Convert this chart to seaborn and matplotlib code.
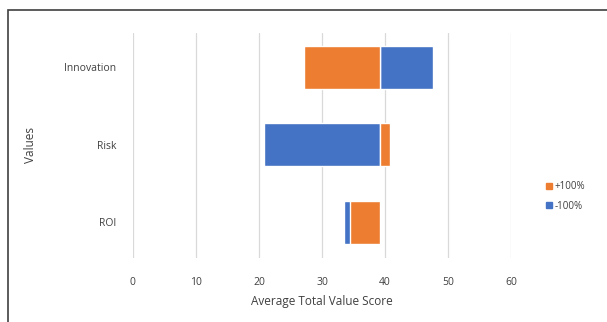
import matplotlib
matplotlib.use("Agg")
import matplotlib.pyplot as plt
import matplotlib.patches as mpatches
import seaborn as sns
import pandas as pd

# data (bar end points, bars start from the base value)
categories = ["Innovation", "Risk", "ROI"]
plus_100 = [27.1, 40.8, 34.4]
minus_100 = [47.6, 20.8, 33.5]
base_value = 39.2
x_ticks = [0, 10, 20, 30, 40, 50, 60]

ORANGE = "#ED7D31"
BLUE = "#4472C4"

sns.set_theme(style="white")
plt.rcParams["font.family"] = ["Open Sans", "DejaVu Sans"]

fig = plt.figure(figsize=(6.07, 3.22), dpi=100)
ax = fig.add_axes([0.219, 0.199, 0.623, 0.70])

df_plus = pd.DataFrame({"cat": categories, "w": [v - base_value for v in plus_100]})
df_minus = pd.DataFrame({"cat": categories, "w": [v - base_value for v in minus_100]})

# -100% drawn first, +100% on top (so the small ROI blue sliver shows under orange)
sns.barplot(data=df_minus, x="w", y="cat", orient="y", color=BLUE, width=0.555,
            left=base_value, errorbar=None, saturation=1, ax=ax, zorder=2)
sns.barplot(data=df_plus, x="w", y="cat", orient="y", color=ORANGE, width=0.555,
            left=base_value, errorbar=None, saturation=1, ax=ax, zorder=3)

ax.set_xlim(0, 60)
ax.set_ylim(2.46, -0.45)
ax.set_xticks(x_ticks)
ax.set_xticklabels([str(t) for t in x_ticks])
ax.grid(axis="x", color="#D9D9D9", linewidth=0.9, zorder=0)
ax.set_axisbelow(True)
for s in ax.spines.values():
    s.set_visible(False)
ax.tick_params(axis="x", length=0, pad=14, labelsize=7.5, labelcolor="#404040")
ax.tick_params(axis="y", length=0, pad=12, labelsize=7.5, labelcolor="#404040")
ax.set_xlabel("Average Total Value Score", fontsize=8.5, color="#404040", labelpad=5)
ax.set_ylabel("Values", fontsize=8.5, color="#404040")
ax.yaxis.set_label_coords(-0.254, 0.5)

handles = [mpatches.Patch(color=ORANGE, label="+100%"),
           mpatches.Patch(color=BLUE, label="-100%")]
fig.legend(handles=handles, loc="center left", bbox_to_anchor=(0.885, 0.39),
           frameon=False, fontsize=7, handlelength=0.6, handleheight=0.6,
           handletextpad=0.3, labelspacing=0.9, labelcolor="#404040")

# outer frame of the chart area
fig.patches.append(mpatches.Rectangle((0.013, -0.01), 0.995, 0.978, transform=fig.transFigure,
                                      fill=False, edgecolor="#404040", linewidth=1.2))

fig.savefig("out.png", dpi=100)
